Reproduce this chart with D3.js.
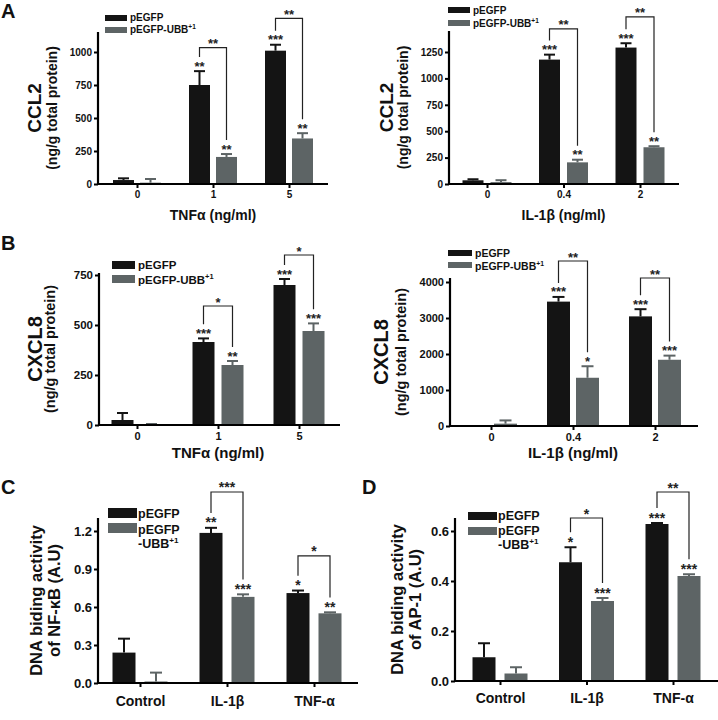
<!DOCTYPE html>
<html lang="en">
<head>
<meta charset="UTF-8">
<title>CCL2 / CXCL8 / NF-kB / AP-1</title>
<script src="https://d3js.org/d3.v7.min.js"></script>
<style>
  body { margin: 0; background: #fff; }
  svg { font-family: "Liberation Sans", Arial, sans-serif; font-weight: bold; }
</style>
</head>
<body>
<script>
const series = ["pEGFP", "pEGFP-UBB"];
const tnfDoses = ["0", "1", "5"];
const il1bDoses = ["0", "0.4", "2"];
const stimuli = ["Control", "IL-1β", "TNF-α"];

// A - CCL2, TNFα
const ccl2TnfEgfp = [30, 750, 1010];
const ccl2TnfEgfpSem = [13, 105, 45];
const ccl2TnfUbb = [10, 205, 345];
const ccl2TnfUbbSem = [28, 22, 40];
const ccl2TnfStarsEgfp = ["", "**", "***"];
const ccl2TnfStarsUbb = ["", "**", "**"];
const ccl2TnfPair = ["", "**", "**"];
const ccl2TnfBracket = [null, 1033, 1255];
const ccl2TnfTicks = [0, 250, 500, 750, 1000];

// A - CCL2, IL-1β
const ccl2IlEgfp = [35, 1178, 1292];
const ccl2IlEgfpSem = [10, 47, 41];
const ccl2IlUbb = [18, 205, 348];
const ccl2IlUbbSem = [18, 25, 10];
const ccl2IlStarsEgfp = ["", "***", "***"];
const ccl2IlStarsUbb = ["", "**", "**"];
const ccl2IlPair = ["", "**", "**"];
const ccl2IlBracket = [null, 1469, 1583];
const ccl2IlTicks = [0, 250, 500, 750, 1000, 1250];

// B - CXCL8, TNFα
const cxcl8TnfEgfp = [25, 415, 700];
const cxcl8TnfEgfpSem = [35, 18, 30];
const cxcl8TnfUbb = [3, 300, 470];
const cxcl8TnfUbbSem = [2, 20, 38];
const cxcl8TnfStarsEgfp = ["", "***", "***"];
const cxcl8TnfStarsUbb = ["", "**", "***"];
const cxcl8TnfPair = ["", "*", "*"];
const cxcl8TnfBracket = [null, 595, 850];
const cxcl8TnfTicks = [0, 250, 500, 750];

// B - CXCL8, IL-1β
const cxcl8IlEgfp = [0, 3455, 3045];
const cxcl8IlEgfpSem = [0, 130, 200];
const cxcl8IlUbb = [65, 1340, 1840];
const cxcl8IlUbbSem = [90, 320, 115];
const cxcl8IlStarsEgfp = ["", "***", "***"];
const cxcl8IlStarsUbb = ["", "*", "***"];
const cxcl8IlPair = ["", "**", "**"];
const cxcl8IlBracket = [null, 4583, 4111];
const cxcl8IlTicks = [0, 1000, 2000, 3000, 4000];

// C - NF-κB
const nfkbEgfp = [0.24, 1.185, 0.71];
const nfkbEgfpSem = [0.11, 0.04, 0.02];
const nfkbUbb = [0.012, 0.68, 0.55];
const nfkbUbbSem = [0.07, 0.02, 0.008];
const nfkbStarsEgfp = ["", "**", "*"];
const nfkbStarsUbb = ["", "***", "**"];
const nfkbPair = ["", "***", "*"];
const nfkbBracket = [null, 1.508, 1.003];
const nfkbTicks = [0, 0.3, 0.6, 0.9, 1.2];

// D - AP-1
const ap1Egfp = [0.095, 0.475, 0.628];
const ap1EgfpSem = [0.056, 0.06, 0.004];
const ap1Ubb = [0.03, 0.32, 0.42];
const ap1UbbSem = [0.025, 0.012, 0.007];
const ap1StarsEgfp = ["", "*", "***"];
const ap1StarsUbb = ["", "***", "***"];
const ap1Pair = ["", "*", "**"];
const ap1Bracket = [null, 0.652, 0.756];
const ap1Ticks = [0, 0.2, 0.4, 0.6];

const colors = ["#141414", "#5d6465"];
const ink = "#222";

const svg = d3.select("body").append("svg").attr("width", 718).attr("height", 720);

const panels = [
  {letter: "A", letterXY: [1, 18], cats: tnfDoses,
   mean: [ccl2TnfEgfp, ccl2TnfUbb], sem: [ccl2TnfEgfpSem, ccl2TnfUbbSem],
   stars: [ccl2TnfStarsEgfp, ccl2TnfStarsUbb], pair: ccl2TnfPair, bracket: ccl2TnfBracket,
   ticks: ccl2TnfTicks, fmt: d3.format("d"),
   ax: 98, y0: 184, yTick: 52, yTop: 32, xEnd: 328, c0: 137, c1: 289, barW: 21, gap: 6,
   tickFont: 10, xTickFont: 10, xPad: 3, starFont: 13,
   xTitle: "TNFα (ng/ml)", xTitleFont: 14, xTitleY: 220,
   yTitle: ["CCL2", "(ng/g total protein)"], yFonts: [19, 14], yOff: [57, 41],
   leg: {x: 105, w: 22, h: 6, tops: [15, 27], tx: 130, font: 10, base: [21, 33], split: false}},
  {letter: null, cats: il1bDoses,
   mean: [ccl2IlEgfp, ccl2IlUbb], sem: [ccl2IlEgfpSem, ccl2IlUbbSem],
   stars: [ccl2IlStarsEgfp, ccl2IlStarsUbb], pair: ccl2IlPair, bracket: ccl2IlBracket,
   ticks: ccl2IlTicks, fmt: d3.format("d"),
   ax: 449, y0: 184, yTick: 52, yTop: 31, xEnd: 679, c0: 487, c1: 640, barW: 21, gap: 7,
   tickFont: 10, xTickFont: 10, xPad: 3, starFont: 13,
   xTitle: "IL-1β (ng/ml)", xTitleFont: 14, xTitleY: 220,
   yTitle: ["CCL2", "(ng/g total protein)"], yFonts: [19, 14], yOff: [56, 41],
   leg: {x: 448, w: 22, h: 6, tops: [7, 20], tx: 473, font: 10, base: [14, 27], split: false}},
  {letter: "B", letterXY: [1, 250], cats: tnfDoses,
   mean: [cxcl8TnfEgfp, cxcl8TnfUbb], sem: [cxcl8TnfEgfpSem, cxcl8TnfUbbSem],
   stars: [cxcl8TnfStarsEgfp, cxcl8TnfStarsUbb], pair: cxcl8TnfPair, bracket: cxcl8TnfBracket,
   ticks: cxcl8TnfTicks, fmt: d3.format("d"),
   ax: 99, y0: 425, yTick: 275, yTop: 273, xEnd: 340, c0: 137, c1: 299, barW: 22, gap: 7,
   tickFont: 11.5, xTickFont: 11, xPad: 3, starFont: 13,
   xTitle: "TNFα (ng/ml)", xTitleFont: 15, xTitleY: 458,
   yTitle: ["CXCL8", "(ng/g total protein)"], yFonts: [20, 14.5], yOff: [57, 44],
   leg: {x: 112, w: 23, h: 8, tops: [261, 275], tx: 138, font: 11.5, base: [269, 284], split: false}},
  {letter: null, cats: il1bDoses,
   mean: [cxcl8IlEgfp, cxcl8IlUbb], sem: [cxcl8IlEgfpSem, cxcl8IlUbbSem],
   stars: [cxcl8IlStarsEgfp, cxcl8IlStarsUbb], pair: cxcl8IlPair, bracket: cxcl8IlBracket,
   ticks: cxcl8IlTicks, fmt: d3.format("d"),
   ax: 450, y0: 426, yTick: 282, yTop: 278, xEnd: 698, c0: 491, c1: 655, barW: 23, gap: 6,
   tickFont: 11, xTickFont: 11, xPad: 3, starFont: 13,
   xTitle: "IL-1β (ng/ml)", xTitleFont: 15, xTitleY: 458,
   yTitle: ["CXCL8", "(ng/g total protein)"], yFonts: [20, 14.5], yOff: [62, 44],
   leg: {x: 448, w: 24, h: 6, tops: [250, 262], tx: 475, font: 10.5, base: [257, 270], split: false}},
  {letter: "C", letterXY: [1, 494], cats: stimuli,
   mean: [nfkbEgfp, nfkbUbb], sem: [nfkbEgfpSem, nfkbUbbSem],
   stars: [nfkbStarsEgfp, nfkbStarsUbb], pair: nfkbPair, bracket: nfkbBracket,
   ticks: nfkbTicks, fmt: d3.format(".1f"),
   ax: 98, y0: 683, yTick: 531, yTop: 518, xEnd: 358, c0: 140, c1: 314, barW: 23, gap: 9,
   tickFont: 13, xTickFont: 14, xPad: 9, starFont: 14,
   xTitle: null,
   yTitle: ["DNA biding activity", "of NF-κB (A.U)"], yFonts: [16.5, 16.5], yOff: [56, 38],
   leg: {x: 108, w: 29, h: 10, tops: [508, 523], tx: 138, font: 12.5, base: [518, 534, 548], split: true}},
  {letter: "D", letterXY: [362, 494], cats: stimuli,
   mean: [ap1Egfp, ap1Ubb], sem: [ap1EgfpSem, ap1UbbSem],
   stars: [ap1StarsEgfp, ap1StarsUbb], pair: ap1Pair, bracket: ap1Bracket,
   ticks: ap1Ticks, fmt: d3.format(".1f"),
   ax: 455, y0: 681, yTick: 531, yTop: 518, xEnd: 718, c0: 500, c1: 673, barW: 23, gap: 9,
   tickFont: 13, xTickFont: 14, xPad: 8, starFont: 14,
   xTitle: null,
   yTitle: ["DNA biding activity", "of AP-1 (A.U)"], yFonts: [16.5, 16.5], yOff: [52, 34],
   leg: {x: 468, w: 29, h: 8, tops: [512, 527], tx: 498, font: 12.5, base: [520, 535, 549], split: true}}
];

panels.forEach(drawPanel);

function drawPanel(p) {
  const g = svg.append("g");
  const x = d3.scalePoint().domain(p.cats).range([p.c0, p.c1]);
  const half = p.barW + p.gap / 2;
  const inner = d3.scaleBand().domain(series).range([-half, half])
                  .paddingInner(p.gap / (p.barW + p.gap));
  const y = d3.scaleLinear().domain([0, d3.max(p.ticks)]).range([p.y0, p.yTick]);
  const capW = Math.round(p.barW * 0.5);
  const barMid = (c, si) => x(c) + inner(series[si]) + inner.bandwidth() / 2;

  series.forEach((s, si) => {
    const rows = p.cats.map((c, i) => ({c: c, m: p.mean[si][i], e: p.sem[si][i], star: p.stars[si][i]}));

    g.selectAll(null).data(rows.filter(d => d.e > 0)).join("line")
      .attr("x1", d => barMid(d.c, si)).attr("x2", d => barMid(d.c, si))
      .attr("y1", d => y(d.m)).attr("y2", d => y(d.m + d.e))
      .attr("stroke", colors[si]).attr("stroke-width", 2);
    g.selectAll(null).data(rows.filter(d => d.e > 0)).join("line")
      .attr("x1", d => barMid(d.c, si) - capW / 2).attr("x2", d => barMid(d.c, si) + capW / 2)
      .attr("y1", d => y(d.m + d.e)).attr("y2", d => y(d.m + d.e))
      .attr("stroke", colors[si]).attr("stroke-width", 2);

    g.selectAll(null).data(rows).join("rect")
      .attr("x", d => x(d.c) + inner(s))
      .attr("width", inner.bandwidth())
      .attr("y", d => y(d.m))
      .attr("height", d => y(0) - y(d.m))
      .attr("fill", colors[si]);

    g.selectAll(null).data(rows.filter(d => d.star)).join("text")
      .attr("x", d => barMid(d.c, si))
      .attr("y", d => y(d.m + d.e) - 0.5)
      .attr("text-anchor", "middle")
      .attr("font-size", p.starFont)
      .attr("fill", ink)
      .text(d => d.star);
  });

  // pairwise brackets
  const legGap = p.starFont * 0.85 + 3;
  p.cats.forEach((c, i) => {
    if (!p.pair[i]) return;
    const xl = barMid(c, 0), xr = barMid(c, 1);
    const top = y(p.bracket[i]);
    const yl = y(p.mean[0][i] + p.sem[0][i]) - legGap;
    const yr = y(p.mean[1][i] + p.sem[1][i]) - legGap;
    g.append("path")
      .attr("d", `M${xl},${yl}V${top}H${xr}V${yr}`)
      .attr("fill", "none").attr("stroke", ink).attr("stroke-width", 1.2);
    g.append("text")
      .attr("x", (xl + xr) / 2).attr("y", top + 0.5)
      .attr("text-anchor", "middle").attr("font-size", p.starFont)
      .attr("fill", ink).text(p.pair[i]);
  });

  // axes
  const yAxis = g.append("g").attr("transform", `translate(${p.ax},0)`)
    .call(d3.axisLeft(y).tickValues(p.ticks).tickFormat(p.fmt).tickSize(4).tickPadding(2));
  yAxis.select(".domain").remove();
  yAxis.selectAll("line").attr("stroke", "#000").attr("stroke-width", 2);
  yAxis.selectAll("text").attr("font-size", p.tickFont).attr("fill", "#111")
    .attr("font-family", null);

  const xAxis = g.append("g").attr("transform", `translate(0,${p.y0})`)
    .call(d3.axisBottom(x).tickSize(4).tickPadding(p.xPad));
  xAxis.select(".domain").remove();
  xAxis.selectAll("line").attr("stroke", "#000").attr("stroke-width", 2);
  xAxis.selectAll("text").attr("font-size", p.xTickFont).attr("fill", "#111")
    .attr("font-family", null);

  g.append("line").attr("x1", p.ax).attr("x2", p.ax).attr("y1", p.y0 + 1).attr("y2", p.yTop)
    .attr("stroke", "#000").attr("stroke-width", 2.2);
  g.append("line").attr("x1", p.ax - 1).attr("x2", p.xEnd).attr("y1", p.y0).attr("y2", p.y0)
    .attr("stroke", "#000").attr("stroke-width", 2.2);

  if (p.xTitle) {
    g.append("text").attr("x", (p.c0 + p.c1) / 2).attr("y", p.xTitleY)
      .attr("text-anchor", "middle").attr("font-size", p.xTitleFont).attr("fill", "#111")
      .text(p.xTitle);
  }

  const cy = (p.y0 + p.yTop) / 2;
  p.yTitle.forEach((t, k) => {
    g.append("text")
      .attr("transform", `translate(${p.ax - p.yOff[k]},${cy}) rotate(-90)`)
      .attr("text-anchor", "middle").attr("font-size", p.yFonts[k]).attr("fill", "#111")
      .text(t);
  });

  // legend
  const L = p.leg;
  series.forEach((s, si) => {
    g.append("rect").attr("x", L.x).attr("y", L.tops[si]).attr("width", L.w).attr("height", L.h)
      .attr("fill", colors[si]);
  });
  g.append("text").attr("x", L.tx).attr("y", L.base[0]).attr("font-size", L.font)
    .attr("fill", "#111").text(series[0]);
  if (L.split) {
    g.append("text").attr("x", L.tx).attr("y", L.base[1]).attr("font-size", L.font)
      .attr("fill", "#111").text("pEGFP");
    const t = g.append("text").attr("x", L.tx).attr("y", L.base[2]).attr("font-size", L.font)
      .attr("fill", "#111");
    t.append("tspan").text("-UBB");
    t.append("tspan").attr("dy", -L.font * 0.4).attr("font-size", L.font * 0.65).text("+1");
  } else {
    const t = g.append("text").attr("x", L.tx).attr("y", L.base[1]).attr("font-size", L.font)
      .attr("fill", "#111");
    t.append("tspan").text(series[1]);
    t.append("tspan").attr("dy", -L.font * 0.4).attr("font-size", L.font * 0.65).text("+1");
  }

  if (p.letter) {
    svg.append("text").attr("x", p.letterXY[0]).attr("y", p.letterXY[1])
      .attr("font-size", 20).attr("fill", "#111").text(p.letter);
  }
}
</script>
</body>
</html>
